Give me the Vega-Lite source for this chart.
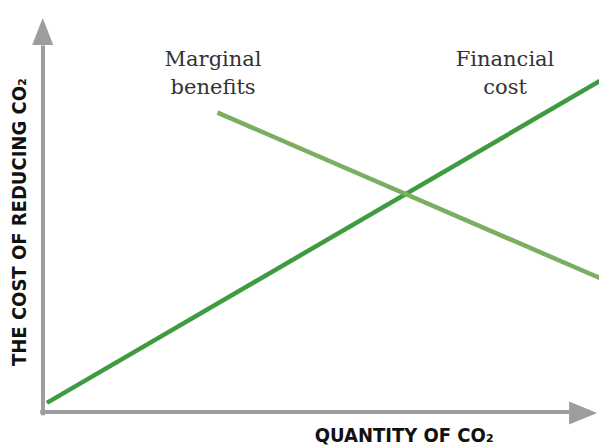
{
  "$schema": "https://vega.github.io/schema/vega-lite/v6.json",
  "width": 599,
  "height": 448,
  "autosize": {"type": "none"},
  "padding": 0,
  "background": "white",
  "config": {"view": {"stroke": null}},
  "datasets": {
    "axes": [
      {"axis": "y", "x": 0, "y": -0.8, "x2": 0, "y2": 93},
      {"axis": "x", "x": -0.5, "y": 0, "x2": 95, "y2": 0}
    ],
    "arrowY": [{"x": -0.05, "y": 96.6}],
    "arrowX": [{"x": 97.5, "y": -0.25}],
    "lines": [
      {"series": "Financial cost", "x": 0.7, "y": 2.3},
      {"series": "Financial cost", "x": 100.5, "y": 84},
      {"series": "Marginal benefits", "x": 31.5, "y": 76},
      {"series": "Marginal benefits", "x": 100.5, "y": 34}
    ],
    "labels": [
      {"label": "Marginal\nbenefits", "x": 30.7, "y": 87.9},
      {"label": "Financial\ncost", "x": 83.4, "y": 87.9}
    ],
    "xtitle": [{"label": "QUANTITY OF CO₂", "x": 65.2, "y": -7.6}],
    "ytitle": [{"label": "THE COST OF REDUCING CO₂", "x": -4.15, "y": 48.2}]
  },
  "encoding": {
    "x": {"field": "x", "type": "quantitative", "scale": {"domain": [-7.76, 100.36], "nice": false, "zero": false}, "axis": null},
    "y": {"field": "y", "type": "quantitative", "scale": {"domain": [-9.14, 104.57], "nice": false, "zero": false}, "axis": null}
  },
  "layer": [
    {
      "data": {"name": "axes"},
      "mark": {"type": "rule", "strokeWidth": 4, "color": "#9d9d9d"},
      "encoding": {
        "x2": {"field": "x2"},
        "y2": {"field": "y2"}
      }
    },
    {
      "data": {"name": "arrowY"},
      "mark": {"type": "point", "shape": "M0,-1L-0.78,1L0.78,1Z", "size": 729, "filled": true, "opacity": 1, "color": "#9d9d9d"},
      "encoding": {}
    },
    {
      "data": {"name": "arrowX"},
      "mark": {"type": "point", "shape": "M1,0L-1,-0.82L-1,0.82Z", "size": 784, "filled": true, "opacity": 1, "color": "#9d9d9d"},
      "encoding": {}
    },
    {
      "data": {"name": "lines"},
      "mark": {"type": "line", "strokeWidth": 4.5},
      "encoding": {
        "detail": {"field": "series"},
        "color": {"field": "series", "type": "nominal", "scale": {"domain": ["Financial cost", "Marginal benefits"], "range": ["#3f9b40", "#7aae60"]}, "legend": null}
      }
    },
    {
      "data": {"name": "labels"},
      "mark": {"type": "text", "font": "DejaVu Serif", "fontSize": 21, "fontWeight": "normal", "color": "#333333", "align": "center", "baseline": "alphabetic", "lineBreak": "\n", "lineHeight": 28},
      "encoding": {"text": {"field": "label"}}
    },
    {
      "data": {"name": "xtitle"},
      "mark": {"type": "text", "font": "DejaVu Sans Condensed", "fontSize": 20, "fontWeight": "bold", "color": "#111111", "align": "center", "baseline": "alphabetic"},
      "encoding": {"text": {"field": "label"}}
    },
    {
      "data": {"name": "ytitle"},
      "mark": {"type": "text", "font": "DejaVu Sans Condensed", "fontSize": 20, "fontWeight": "bold", "color": "#111111", "align": "center", "baseline": "middle", "angle": 270},
      "encoding": {"text": {"field": "label"}}
    }
  ]
}
